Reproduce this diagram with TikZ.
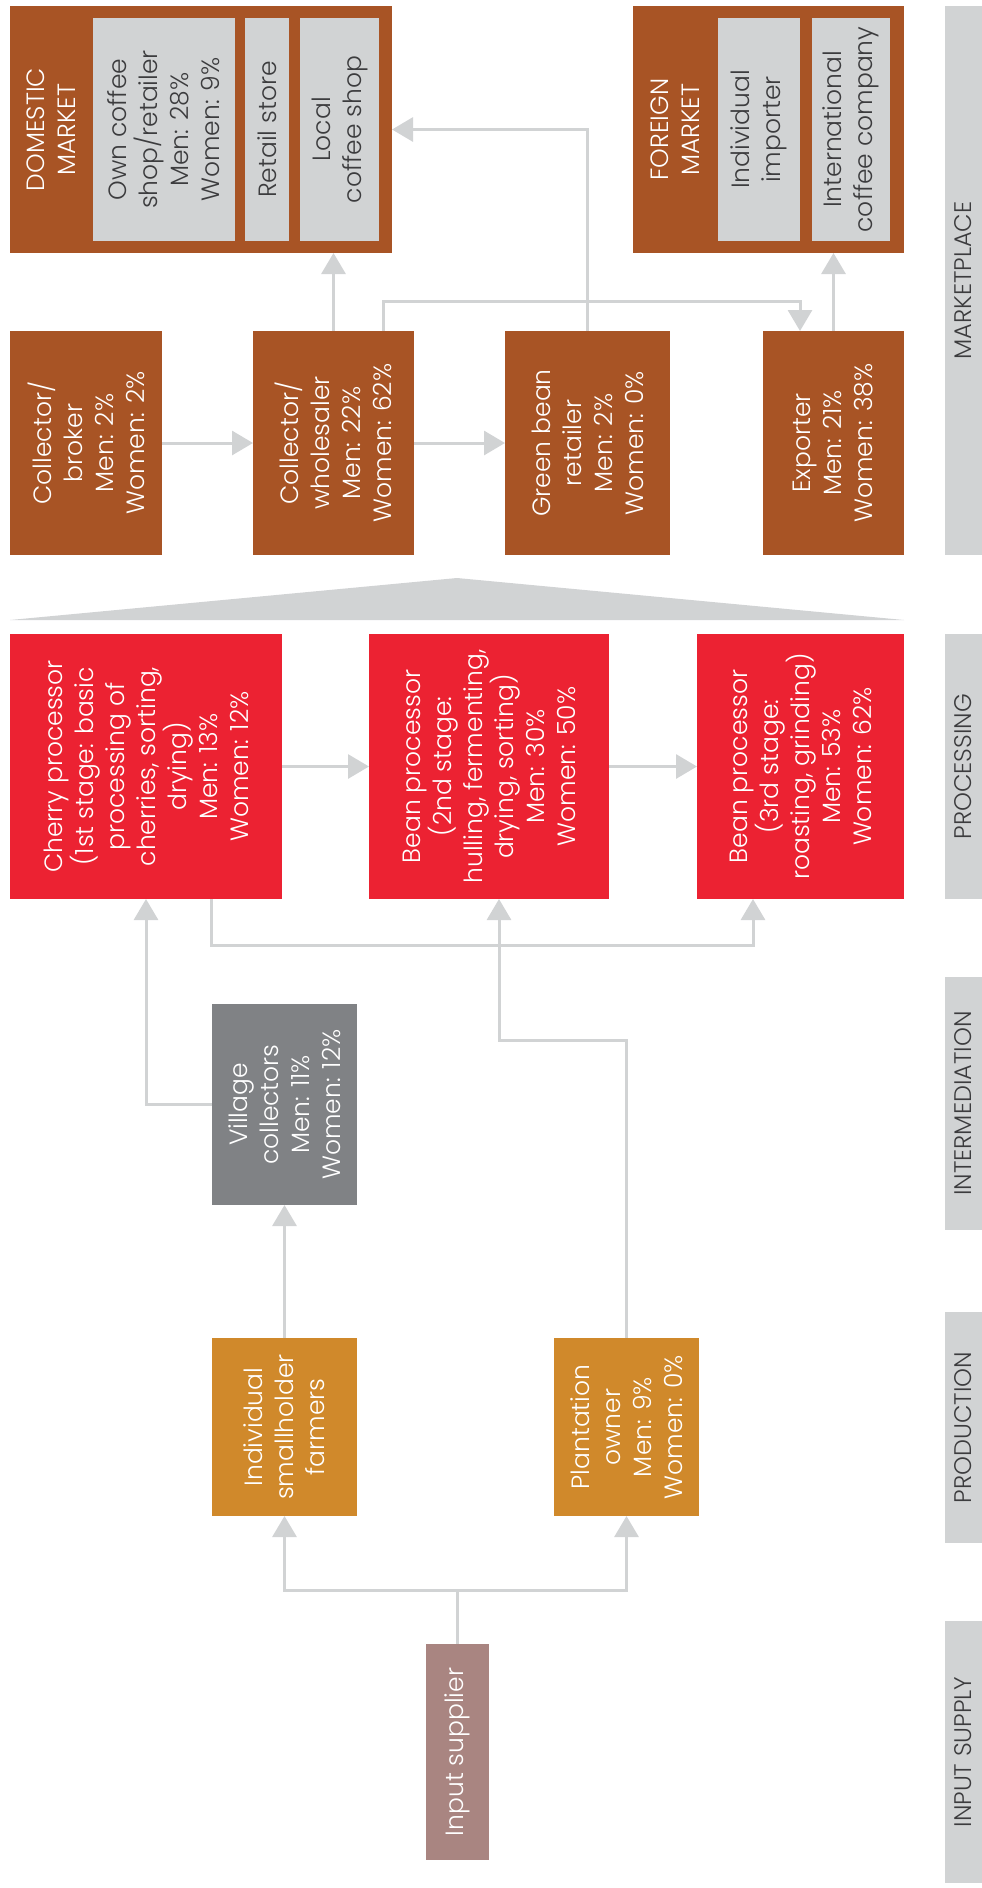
\documentclass[tikz,border=0pt]{standalone}
\usepackage{fontspec}
\IfFontExistsTF{Poppins Light}{\setmainfont{Poppins Light}}{\setmainfont{Poppins}}
\usetikzlibrary{arrows.meta,calc}
\definecolor{cbrown}{HTML}{A85425}
\definecolor{cred}{HTML}{EC2232}
\definecolor{corange}{HTML}{D0892B}
\definecolor{cgraybox}{HTML}{808285}
\definecolor{cinput}{HTML}{A98581}
\definecolor{clight}{HTML}{D1D3D4}
\definecolor{cdark}{HTML}{3C3C3E}
\tikzset{
  bx/.style={draw=none, inner sep=0pt, outer sep=0pt, rectangle},
  txt/.style={rotate=90, align=center, text=white, inner sep=0pt, font=\fontsize{25}{31}\selectfont},
  dtxt/.style={txt, text=cdark},
  bartxt/.style={rotate=90, align=center, text=cdark, inner sep=0pt, font=\fontsize{24}{29}\selectfont},
  conn/.style={draw=clight, line width=3pt, -{Triangle[width=24pt,length=21pt]}},
}
\begin{document}
\begin{tikzpicture}[x=1pt,y=-1pt]
\useasboundingbox (0,0) rectangle (982,1888);
% side bars
\node[bx, fill=clight, minimum width=37pt, minimum height=549pt] (barM) at (963.5,280.5) {};
\node[bartxt] (barMt) at (barM) {MARKETPLACE};
\node[bx, fill=clight, minimum width=37pt, minimum height=265pt] (barP) at (963.5,766.5) {};
\node[bartxt] (barPt) at (barP) {PROCESSING};
\node[bx, fill=clight, minimum width=37pt, minimum height=253pt] (barI) at (963.5,1103.5) {};
\node[bartxt] (barIt) at (barI) {INTERMEDIATION};
\node[bx, fill=clight, minimum width=37pt, minimum height=231pt] (barR) at (963.5,1427.5) {};
\node[bartxt] (barRt) at (barR) {PRODUCTION};
\node[bx, fill=clight, minimum width=37pt, minimum height=262pt] (barS) at (963.5,1752) {};
\node[bartxt] (barSt) at (barS) {INPUT SUPPLY};
% markets
\node[bx, fill=cbrown, minimum width=382pt, minimum height=247pt] (domestic) at (201,129.5) {};
\node[txt] (domesticT) at (51,129.5) {DOMESTIC\\MARKET};
\node[bx, fill=clight, minimum width=142pt, minimum height=223pt] (own) at (164,129.5) {};
\node[dtxt] (ownT) at (own) {Own coffee\\shop/retailer\\Men: 28\%\\Women: 9\%};
\node[bx, fill=clight, minimum width=44pt, minimum height=223pt] (retail) at (267,129.5) {};
\node[dtxt] (retailT) at (retail) {Retail store};
\node[bx, fill=clight, minimum width=79pt, minimum height=223pt] (local) at (339.5,129.5) {};
\node[dtxt] (localT) at (local) {Local\\coffee shop};
\node[bx, fill=cbrown, minimum width=271pt, minimum height=247pt] (foreign) at (768.5,129.5) {};
\node[txt] (foreignT) at (675,129.5) {FOREIGN\\MARKET};
\node[bx, fill=clight, minimum width=82pt, minimum height=223pt] (importer) at (759,129.5) {};
\node[dtxt] (importerT) at (importer) {Individual\\importer};
\node[bx, fill=clight, minimum width=78pt, minimum height=223pt] (intl) at (851,129.5) {};
\node[dtxt] (intlT) at (intl) {International\\coffee company};
% marketplace actors
\node[bx, fill=cbrown, minimum width=152pt, minimum height=224pt] (broker) at (86,443) {};
\node[txt] (brokerT) at (broker) {Collector/\\broker\\Men: 2\%\\Women: 2\%};
\node[bx, fill=cbrown, minimum width=161pt, minimum height=224pt] (wholesaler) at (333.5,443) {};
\node[txt] (wholesalerT) at (wholesaler) {Collector/\\wholesaler\\Men: 22\%\\Women: 62\%};
\node[bx, fill=cbrown, minimum width=165pt, minimum height=224pt] (green) at (587.5,443) {};
\node[txt] (greenT) at (green) {Green bean\\retailer\\Men: 2\%\\Women: 0\%};
\node[bx, fill=cbrown, minimum width=141pt, minimum height=224pt] (exporter) at (833.5,443) {};
\node[txt] (exporterT) at (exporter) {Exporter\\Men: 21\%\\Women: 38\%};
% triangle
\fill[clight] (10,620) -- (457,578) -- (904,620) -- cycle;
% processing
\node[bx, fill=cred, minimum width=272pt, minimum height=265pt] (cherry) at (146,766.5) {};
\node[txt] (cherryT) at (cherry) {Cherry processor\\(1st stage: basic\\processing of\\cherries, sorting,\\drying)\\Men: 13\%\\Women: 12\%};
\node[bx, fill=cred, minimum width=240pt, minimum height=265pt] (bean2) at (489,766.5) {};
\node[txt] (bean2T) at (bean2) {Bean processor\\(2nd stage:\\hulling, fermenting,\\drying, sorting)\\Men: 30\%\\Women: 50\%};
\node[bx, fill=cred, minimum width=207pt, minimum height=265pt] (bean3) at (800.5,766.5) {};
\node[txt] (bean3T) at (bean3) {Bean processor\\(3rd stage:\\roasting, grinding)\\Men: 53\%\\Women: 62\%};
% intermediation
\node[bx, fill=cgraybox, minimum width=145pt, minimum height=201pt] (village) at (284.5,1104.5) {};
\node[txt] (villageT) at (village) {Village\\collectors\\Men: 11\%\\Women: 12\%};
% production
\node[bx, fill=corange, minimum width=145pt, minimum height=178pt] (small) at (284.5,1427) {};
\node[txt] (smallT) at (small) {Individual\\smallholder\\farmers};
\node[bx, fill=corange, minimum width=145pt, minimum height=178pt] (plant) at (626.5,1427) {};
\node[txt] (plantT) at (plant) {Plantation\\owner\\Men: 9\%\\Women: 0\%};
% input
\node[bx, fill=cinput, minimum width=63pt, minimum height=216pt] (input) at (457.5,1752) {};
\node[txt] (inputT) at (input) {Input supplier};
% connectors
\draw[conn] (broker.east) -- (wholesaler.west);
\draw[conn] (wholesaler.east) -- (green.west);
\draw[conn] (wholesaler.north) -- (domestic.south -| wholesaler.north);
\draw[conn] ([xshift=130pt]wholesaler.north west) -- ++(0,-30) -| ([xshift=37pt]exporter.north west);
\draw[conn] (green.north) |- (domestic.east);
\draw[conn] (exporter.north) -- (foreign.south -| exporter.north);
\draw[conn] (cherry.east) -- (bean2.west);
\draw[conn] (bean2.east) -- (bean3.west);
\draw[conn] ([xshift=201pt]cherry.south west) -- ++(0,46) -| ([xshift=56pt]bean3.south west);
\draw[conn] (village.west) -| (cherry.south);
\draw[conn] (small.north) -- (village.south);
\draw[conn] (plant.north) -- ++(0,-298) -| ([xshift=130pt]bean2.south west);
\draw[conn] (input.north) -- ++(0,-54) -| (small.south);
\draw[conn] (input.north) -- ++(0,-54) -| (plant.south);
\end{tikzpicture}
\end{document}
